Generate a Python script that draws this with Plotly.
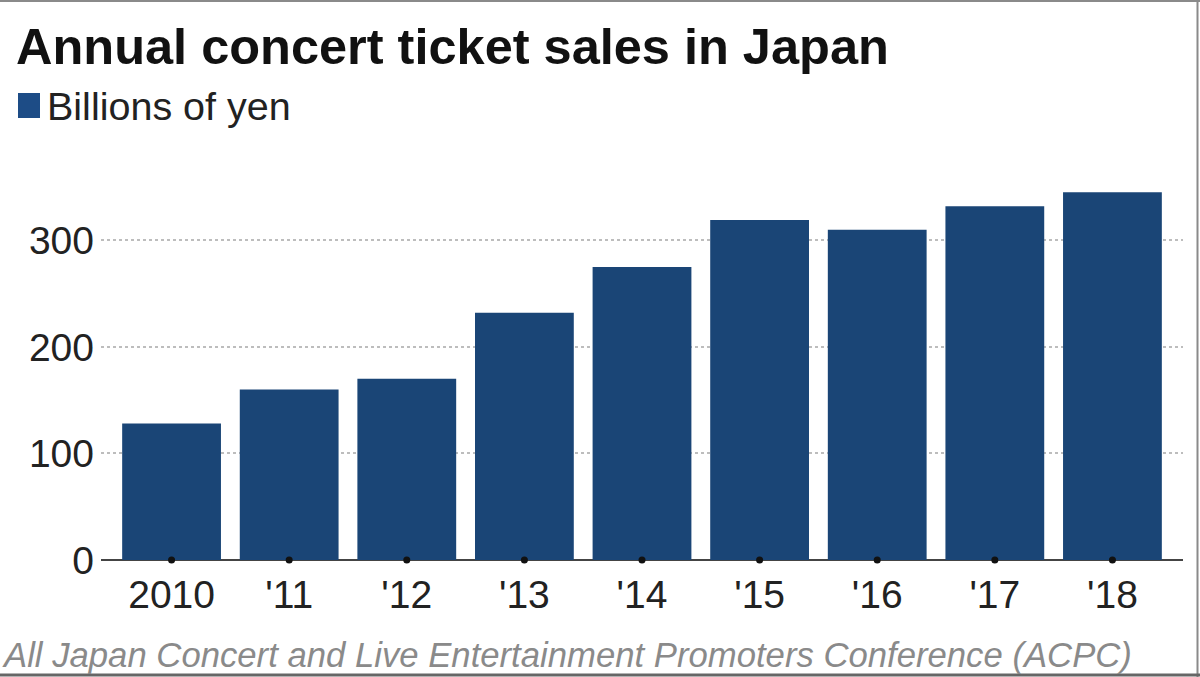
import plotly.graph_objects as go

categories = ["2010", "'11", "'12", "'13", "'14", "'15", "'16", "'17", "'18"]
sales = [128, 160, 170, 232, 275, 319, 310, 332, 345]
y_ticks = [0, 100, 200, 300]

title_text = "Annual concert ticket sales in Japan"
legend_text = "Billions of yen"
source_text = "All Japan Concert and Live Entertainment Promoters Conference (ACPC)"

W, H = 1200, 677
ML, MR, MT, MB = 101, 17, 187, 117
PW, PH = W - ML - MR, H - MT - MB

def px(x):
    return (x - ML) / PW

def py(y):
    return (H - MB - y) / PH

bar_color = "#1a4576"
FONT = "Liberation Sans, Arial, sans-serif"

fig = go.Figure()
fig.add_trace(go.Bar(x=list(range(len(categories))), y=sales, marker_color=bar_color,
                     marker_line_width=0, showlegend=False, hoverinfo="y"))
fig.add_trace(go.Scatter(x=list(range(len(categories))), y=[0] * len(categories), mode="markers",
                         marker=dict(color="#111111", size=7), cliponaxis=False,
                         showlegend=False, hoverinfo="skip"))

fig.update_layout(
    width=W, height=H,
    margin=dict(l=ML, r=MR, t=MT, b=MB),
    paper_bgcolor="white", plot_bgcolor="white",
    bargap=0.16,
    font=dict(family=FONT, color="#222222"),
    xaxis=dict(tickmode="array", tickvals=list(range(len(categories))), ticktext=categories,
               range=[-0.6, len(categories) - 0.4], showgrid=False, zeroline=False,
               showline=False, ticks="", tickfont=dict(size=39, color="#222222"),
               ticklabelstandoff=8, fixedrange=True),
    yaxis=dict(range=[0, 350], tickvals=y_ticks, showgrid=True, gridcolor="#bdbdbd",
               griddash="dot", gridwidth=2, zeroline=True, zerolinecolor="#444444",
               zerolinewidth=2, showline=False, ticks="",
               tickfont=dict(size=39, color="#222222"), ticklabelstandoff=6,
               layer="above traces", fixedrange=True),
    shapes=[
        dict(type="rect", xref="paper", yref="paper", x0=px(18), x1=px(40), y0=py(93), y1=py(118),
             fillcolor="#1d4c86", line_width=0),
        dict(type="line", xref="paper", yref="paper", x0=px(0), x1=px(1200), y0=py(1), y1=py(1),
             line=dict(color="#8a8a8a", width=2)),
        dict(type="line", xref="paper", yref="paper", x0=px(1197.5), x1=px(1197.5), y0=py(0), y1=py(677),
             line=dict(color="#8a8a8a", width=2)),
        dict(type="line", xref="paper", yref="paper", x0=px(0), x1=px(1200), y0=py(675), y1=py(675),
             line=dict(color="#666666", width=3)),
    ],
    annotations=[
        dict(text="<b>" + title_text + "</b>", xref="paper", yref="paper", x=px(14), y=py(46),
             xanchor="left", yanchor="middle", showarrow=False,
             font=dict(size=50.5, color="#111111", family=FONT)),
        dict(text=legend_text, xref="paper", yref="paper", x=px(45), y=py(106),
             xanchor="left", yanchor="middle", showarrow=False,
             font=dict(size=39.5, color="#222222", family=FONT)),
        dict(text="<i>" + source_text + "</i>", xref="paper", yref="paper", x=px(0), y=py(655),
             xanchor="left", yanchor="middle", showarrow=False,
             font=dict(size=34.7, color="#8a8a8a", family=FONT)),
    ],
)

fig.write_html("out.html", config={"displayModeBar": False},
               post_script="document.body.style.margin='0';document.body.style.overflow='hidden';")
